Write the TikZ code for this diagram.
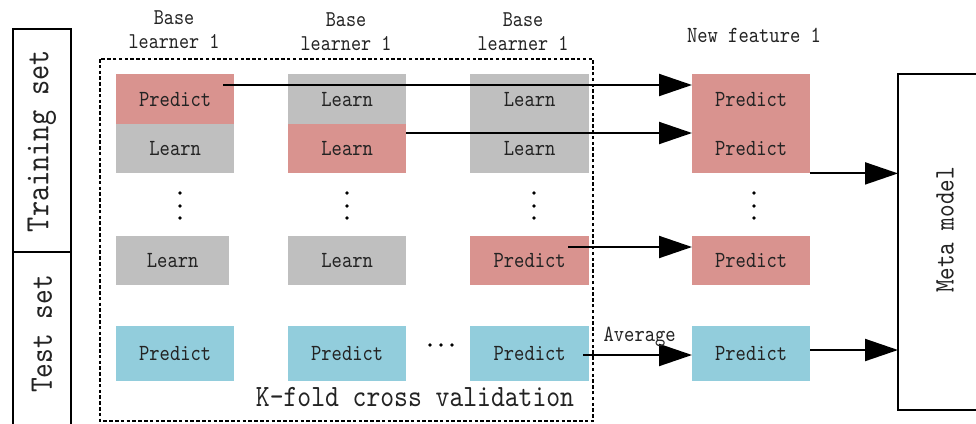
\documentclass[tikz,border=0pt]{standalone}
\usepackage{fontspec}
\usetikzlibrary{arrows.meta}
\newfontfamily\condtt{lmmono10-regular.otf}[FakeStretch=0.85]
\definecolor{predpink}{RGB}{217,147,143}
\definecolor{learngray}{RGB}{191,191,191}
\definecolor{testcyan}{RGB}{146,205,220}
\definecolor{txt}{RGB}{35,35,35}
\newcommand{\cellfont}{\fontsize{23.1}{26}\selectfont\condtt}
\newcommand{\headfont}{\fontsize{22.6}{24}\selectfont\condtt}
\newcommand{\bigfont}{\fontsize{31}{34}\selectfont\condtt}
\begin{document}
\begin{tikzpicture}[x=1pt,y=-1pt,
  cell/.style={rectangle, inner sep=0pt, anchor=north west, text=txt,
    font=\cellfont, minimum width=118pt, minimum height=50pt},
  pcell/.style={cell, fill=predpink},
  lcell/.style={cell, fill=learngray},
  tcell/.style={cell, fill=testcyan, minimum height=55pt},
  head/.style={align=center, text=txt, font=\headfont, inner sep=0pt},
  arr/.style={line width=2pt, -{Triangle[length=33pt,width=22pt]}},
  frame/.style={line width=2pt},
  dot/.style={fill=black, circle, inner sep=0pt, minimum size=3.6pt}]
\useasboundingbox (0,0) rectangle (976,423);
\clip (0,0) rectangle (976,423);

% left side: training / test split
\draw[frame] (13,29) rectangle (71,252);
\draw[frame] (13,252) -- (13,430) (71,252) -- (71,430);
\node[rotate=90, text=txt, font=\fontsize{34}{36}\selectfont\condtt, inner sep=0pt] (train) at (42,141) {Training set};
\node[rotate=90, text=txt, font=\fontsize{33}{36}\selectfont\condtt, inner sep=0pt] (test) at (42,334) {Test set};

% k-fold frame
\draw[line width=2.3pt, dash pattern=on 3.5pt off 2.3pt] (100,59) rectangle (593,421);
\node[text=txt, font=\bigfont, inner sep=0pt] (kfold) at (415,397) {K-fold cross validation};

% column headers
\node[head] (h1) at (174,30) {Base\\learner 1};
\node[head] (h2) at (346,32) {Base\\learner 1};
\node[head] (h3) at (523,32) {Base\\learner 1};
\node[head, font=\cellfont] (hnf) at (754,35) {New feature 1};

% base learner 1 (column 1)
\node[pcell] (c11) at (116,74) {Predict};
\node[lcell, minimum height=49pt] (c12) at (116,124) {Learn};
\node[lcell, minimum width=113pt, minimum height=49pt] (c13) at (116,236) {Learn};
\node[tcell] (c14) at (116,326) {Predict};

% column 2
\node[lcell] (c21) at (288,74) {Learn};
\node[pcell, minimum height=49pt] (c22) at (288,124) {Learn};
\node[lcell, minimum height=49pt] (c23) at (288,236) {Learn};
\node[tcell] (c24) at (288,326) {Predict};

% column 3
\node[lcell, minimum width=119pt] (c31) at (470,74) {Learn};
\node[lcell, minimum width=119pt, minimum height=49pt] (c32) at (470,124) {Learn};
\node[pcell, minimum width=119pt, minimum height=49pt] (c33) at (470,236) {Predict};
\node[tcell, minimum width=119pt] (c34) at (470,326) {Predict};

% new feature column
\node[pcell] (nf1) at (692,74) {Predict};
\node[pcell, minimum height=49pt] (nf2) at (692,124) {Predict};
\node[pcell, minimum height=49pt] (nf3) at (692,236) {Predict};
\node[tcell] (nf4) at (692,326) {Predict};

% vertical ellipses
\foreach \x/\n in {180/a,347/b,534/c,754/d}{
  \node[dot] (v\n1) at (\x,193) {};
  \node[dot] (v\n2) at (\x,206) {};
  \node[dot] (v\n3) at (\x,218) {};
}
% horizontal ellipsis
\node[dot] (e1) at (430,345) {};
\node[dot] (e2) at (441,345) {};
\node[dot] (e3) at (452,345) {};

% meta model
\coordinate (mtop) at (898,74);
\coordinate (mbot) at (898,410);
\draw[frame] (990,74) -- (mtop) -- (mbot) -- (990,410);
\node[rotate=90, text=txt, font=\fontsize{28.2}{30}\selectfont\condtt, inner sep=0pt] (meta) at (945,230) {Meta model};

% connectors
\coordinate (s1) at (223,85);
\coordinate (s2) at (406,133);
\coordinate (s3) at (568,247);
\coordinate (s4) at (583,355);
\draw[arr] (s1) -- (s1 -| nf1.west);
\draw[arr] (s2) -- (s2 -| nf2.west);
\draw[arr] (s3) -- (s3 -| nf3.west);
\draw[arr] (s4) -- (s4 -| nf4.west)
  node[pos=0.52, above=18pt, anchor=center, text=txt, font=\cellfont, inner sep=0pt] (avg) {Average};
\draw[arr] (nf2.south east) -- (nf2.south east -| mtop);
\coordinate (s6) at (810,350);
\draw[arr] (s6) -- (s6 -| mtop);
\end{tikzpicture}
\end{document}
